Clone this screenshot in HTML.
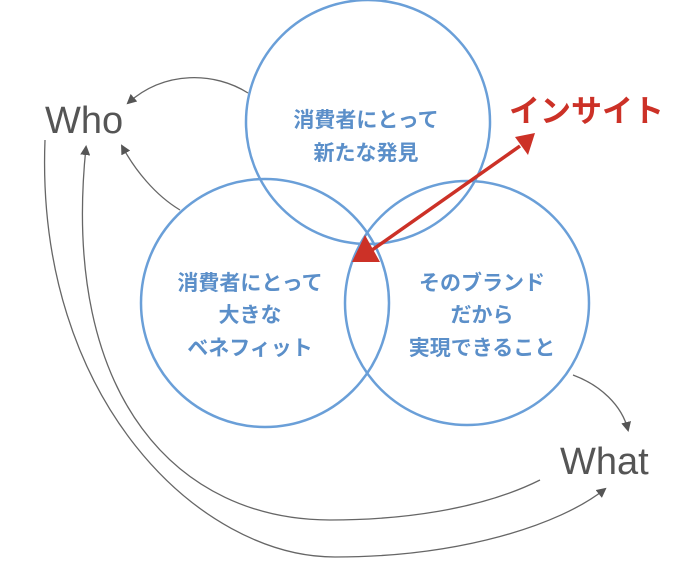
<!DOCTYPE html>
<html><head><meta charset="utf-8"><style>
html,body{margin:0;padding:0;background:#fff;}
svg{display:block;}
</style></head><body>
<svg width="675" height="574" viewBox="0 0 675 574" xmlns="http://www.w3.org/2000/svg">
<defs>
<marker id="ga" markerWidth="10" markerHeight="10" refX="8" refY="5" orient="auto" markerUnits="userSpaceOnUse">
<path d="M0,0 L10,5 L0,10 z" fill="#555"/>
</marker>
</defs>
<g fill="none" stroke="#6a9fd8" stroke-width="2.5">
<circle cx="368" cy="122" r="122"/>
<circle cx="265" cy="303" r="124"/>
<circle cx="467" cy="303" r="122"/>
</g>
<g fill="none" stroke="#666" stroke-width="1.3">
<path d="M248,93 C215,72 165,70 128,103" marker-end="url(#ga)"/>
<path d="M180,210 C155,195 135,170 122,146" marker-end="url(#ga)"/>
<path d="M45,140 C35,400 200,557 335,557 C460,557 560,525 605,489" marker-end="url(#ga)"/>
<path d="M540,480 C480,510 400,520 330,520 C180,520 60,400 86,147" marker-end="url(#ga)"/>
<path d="M573,375 C600,385 622,405 628,430" marker-end="url(#ga)"/>
</g>
<g font-family="Liberation Sans, sans-serif" fill="#555" font-size="38">
<text x="45" y="133">Who</text>
<text x="560" y="474">What</text>
</g>
<line x1="365" y1="255" x2="520" y2="146" stroke="#cc3127" stroke-width="3.5"/>
<polygon points="535,133 515,137 528,155" fill="#cc3127"/>
<polygon points="352,262 380,262 365,235" fill="#cc3127"/>
<text x="509" y="122" font-family="Liberation Sans, 'Noto Sans CJK JP', sans-serif" font-size="31" font-weight="bold" fill="#cc3127">インサイト</text>
<g font-family="Liberation Sans, 'Noto Sans CJK JP', sans-serif" font-size="21" font-weight="bold" fill="#5b8fc9" text-anchor="middle">
<text x="366" y="127">消費者にとって</text>
<text x="366" y="160">新たな発見</text>
<text x="250" y="290">消費者にとって</text>
<text x="250" y="322">大きな</text>
<text x="250" y="355">ベネフィット</text>
<text x="482" y="290">そのブランド</text>
<text x="482" y="322">だから</text>
<text x="482" y="355">実現できること</text>
</g>
</svg>
</body></html>
